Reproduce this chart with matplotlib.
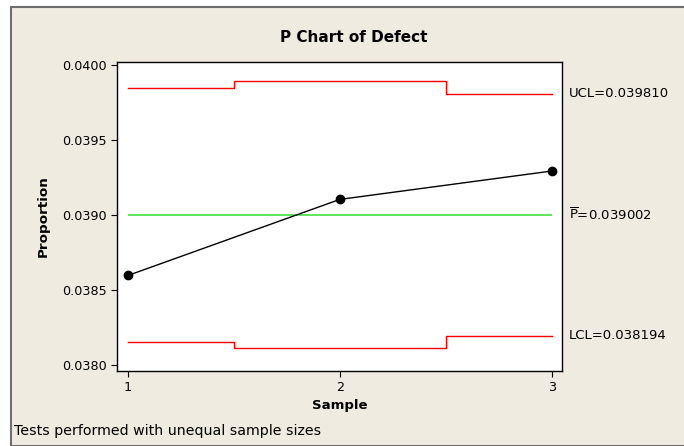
import matplotlib.pyplot as plt
from matplotlib.patches import Rectangle

# sample data
samples = [1, 2, 3]
proportion = [0.038597, 0.039104, 0.039293]
ucl = [0.039850, 0.039893, 0.039810]
lcl = [0.038154, 0.038111, 0.038194]
pbar = 0.039002
yticks = [0.0380, 0.0385, 0.0390, 0.0395, 0.0400]

plt.rcParams['font.family'] = ['DejaVu Sans']
plt.rcParams['mathtext.fontset'] = 'dejavusans'

W, H = 684, 446
fig = plt.figure(figsize=(W / 100, H / 100), dpi=100)
fig.patch.set_facecolor('white')

# beige panel behind the chart
fig.patches.append(Rectangle((11 / W, 0), 1, 1 - 7 / H, transform=fig.transFigure,
                             facecolor='#efebe1', edgecolor='#6e6e6e', linewidth=1.5,
                             zorder=-10))

ax = fig.add_axes([117 / W, 1 - 371 / H, (562 - 117) / W, (371 - 62) / H])
ax.set_facecolor('white')

# control limits as steps around each sample
ax.step(samples, ucl, where='mid', color='red', lw=1)
ax.step(samples, lcl, where='mid', color='red', lw=1)
ax.hlines(pbar, samples[0], samples[-1], color='#40e040', lw=1.2)
ax.plot(samples, proportion, color='black', lw=1, marker='o', ms=6)

ax.set_xlim(0.948, 3.049)
ax.set_ylim(0.03796, 0.04002)
ax.set_xticks(samples)
ax.set_yticks(yticks)
ax.set_yticklabels(['%.4f' % v for v in yticks])
ax.tick_params(labelsize=9.2, length=4, color='black')
for s in ax.spines.values():
    s.set_color('black')
    s.set_linewidth(1)

fig.text(354 / W, 1 - 38 / H, 'P Chart of Defect', fontsize=11, fontweight='bold',
         ha='center', va='center')
ax.set_xlabel('Sample', fontsize=9.5, fontweight='bold', labelpad=3)
ax.set_ylabel('Proportion', fontsize=9.7, fontweight='bold', labelpad=9)

# limit labels on the right
lx = 569 / W
for val, txt in [(ucl[-1], 'UCL=%.6f' % ucl[-1]),
                 (pbar, r'$\overline{\mathrm{P}}$=%.6f' % pbar),
                 (lcl[-1], 'LCL=%.6f' % lcl[-1])]:
    ax.annotate(txt, xy=(lx, val), xycoords=('figure fraction', 'data'),
                fontsize=9.5, va='center', ha='left', annotation_clip=False)

fig.text(14 / W, 1 - 431 / H, 'Tests performed with unequal sample sizes',
         fontsize=10.2, va='center', ha='left')

fig.savefig('out.png', dpi=100, facecolor=fig.get_facecolor())
